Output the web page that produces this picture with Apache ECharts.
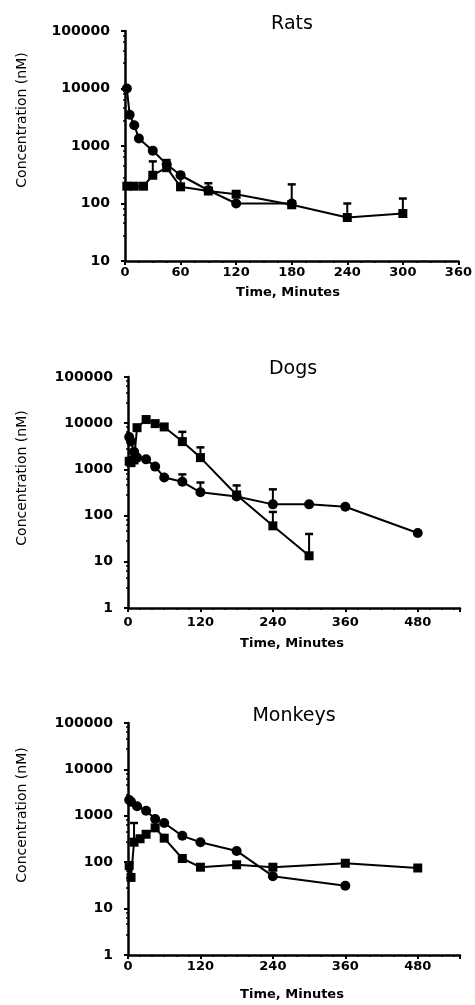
<!DOCTYPE html>
<html>
<head>
<meta charset="utf-8">
<script src="https://cdn.jsdelivr.net/npm/echarts@6/dist/echarts.min.js"></script>
<style>
  html, body { margin: 0; padding: 0; background: #fff; }
  #chart { width: 475px; height: 1005px; }
</style>
</head>
<body>
<div id="chart"></div>
<script>
// Rats
var ratCircTime = [2, 5, 10, 15, 30, 45, 60, 90, 120, 180];
var ratCirc = [10000, 3500, 2300, 1350, 830, 480, 310, 170, 100, 100];
var ratSqTime = [2, 10, 20, 30, 45, 60, 90, 120, 180, 240, 300];
var ratSq = [200, 200, 200, 310, 420, 195, 165, 145, 95, 57, 67];
var ratSqErrTime = [30, 45, 60, 90, 180, 240, 300];
var ratSqErrTop = [540, 570, 340, 225, 215, 100, 122];

// Dogs
var dogCircTime = [2, 5, 10, 15, 30, 45, 60, 90, 120, 180, 240, 300, 360, 480];
var dogCirc = [5000, 4000, 2400, 1800, 1650, 1150, 670, 540, 320, 260, 175, 175, 155, 42];
var dogCircErrTime = [90, 120, 240];
var dogCircErrTop = [780, 520, 370];
var dogSqTime = [2, 5, 10, 15, 30, 45, 60, 90, 120, 180, 240, 300];
var dogSq = [1500, 1400, 1600, 8000, 12000, 9800, 8300, 4000, 1800, 280, 60, 13.5];
var dogSqErrTime = [90, 120, 180, 240, 300];
var dogSqErrTop = [6500, 3000, 450, 120, 40];

// Monkeys
var monCircTime = [2, 5, 15, 30, 45, 60, 90, 120, 180, 240, 360];
var monCirc = [2200, 2000, 1600, 1280, 850, 700, 370, 270, 175, 50, 31];
var monSqTime = [2, 5, 10, 20, 30, 45, 60, 90, 120, 180, 240, 360, 480];
var monSq = [85, 47, 270, 320, 400, 550, 330, 120, 78, 88, 78, 95, 75];
var monSqErrTime = [10];
var monSqErrTop = [700];

var xTicksRats = [0, 60, 120, 180, 240, 300, 360];
var xTicksLong = [0, 120, 240, 360, 480];

var FONT = 'DejaVu Sans';

function pairs(t, v) {
  return t.map(function (x, i) { return [x, v[i]]; });
}
function errData(t, v, et, top) {
  return et.map(function (x, i) { return [x, v[t.indexOf(x)], top[i]]; });
}

// upper error bar with cap
function errBar(params, api) {
  var p0 = api.coord([api.value(0), api.value(1)]);
  var p1 = api.coord([api.value(0), api.value(2)]);
  return {
    type: 'group',
    children: [
      { type: 'line', shape: { x1: p0[0], y1: p0[1], x2: p1[0], y2: p1[1] }, style: { stroke: '#000', lineWidth: 2 } },
      { type: 'line', shape: { x1: p1[0] - 4, y1: p1[1], x2: p1[0] + 4, y2: p1[1] }, style: { stroke: '#000', lineWidth: 2.5 } }
    ]
  };
}

var grids = [
  { left: 125, top: 31, width: 334, height: 230 },
  { left: 128, top: 377, width: 332, height: 231 },
  { left: 128, top: 723, width: 332, height: 232 }
];

function xAxis(idx, max, interval, ticks, minorSplit, margin) {
  return {
    gridIndex: idx, type: 'value', min: 0, max: max, interval: interval,
    axisLine: { show: true, onZero: false, lineStyle: { color: '#000', width: 2.5 } },
    axisTick: { show: true, length: 4, lineStyle: { color: '#000', width: 2 } },
    minorTick: { show: true, splitNumber: minorSplit, length: 2, lineStyle: { color: '#000', width: 1.5 } },
    splitLine: { show: false },
    axisLabel: {
      margin: margin, color: '#000', fontFamily: FONT, fontWeight: 'bold', fontSize: 13,
      showMaxLabel: max === ticks[ticks.length - 1],
      formatter: function (v) { return ticks.indexOf(v) >= 0 ? String(v) : ''; }
    }
  };
}

function yAxis(idx, min) {
  return {
    gridIndex: idx, type: 'log', logBase: 10, min: min, max: 100000,
    axisLine: { show: true, onZero: false, lineStyle: { color: '#000', width: 2.5 } },
    axisTick: { show: true, length: 4, lineStyle: { color: '#000', width: 2 } },
    minorTick: { show: true, splitNumber: 5, length: 2, lineStyle: { color: '#000', width: 1.5 } },
    splitLine: { show: false },
    axisLabel: {
      margin: 15, color: '#000', fontFamily: FONT, fontWeight: 'bold', fontSize: 14,
      formatter: function (v) { return String(Math.round(v)); }
    }
  };
}

function lineSeries(idx, data, symbol) {
  return {
    type: 'line', xAxisIndex: idx, yAxisIndex: idx, data: data,
    symbol: symbol, symbolSize: symbol === 'rect' ? 9 : 10,
    lineStyle: { color: '#000', width: 2 },
    itemStyle: { color: '#000' },
    animation: false, z: 3
  };
}

function errSeries(idx, data) {
  return {
    type: 'custom', xAxisIndex: idx, yAxisIndex: idx, data: data,
    renderItem: errBar, animation: false, z: 2
  };
}

function txt(x, y, s, size, weight, rot) {
  return {
    type: 'text', x: x, y: y, rotation: rot || 0,
    style: { text: s, fill: '#000', font: weight + ' ' + size + 'px "' + FONT + '"', align: 'center', verticalAlign: 'middle' }
  };
}

var chart = echarts.init(document.getElementById('chart'));
var option = {
  backgroundColor: '#fff',
  animation: false,
  grid: grids,
  xAxis: [
    xAxis(0, 360, 60, xTicksRats, 4, 5),
    xAxis(1, 550, 120, xTicksLong, 6, 8),
    xAxis(2, 550, 120, xTicksLong, 6, 5)
  ],
  yAxis: [yAxis(0, 10), yAxis(1, 1), yAxis(2, 1)],
  series: [
    errSeries(0, errData(ratSqTime, ratSq, ratSqErrTime, ratSqErrTop)),
    lineSeries(0, pairs(ratCircTime, ratCirc), 'circle'),
    lineSeries(0, pairs(ratSqTime, ratSq), 'rect'),
    errSeries(1, errData(dogCircTime, dogCirc, dogCircErrTime, dogCircErrTop)),
    errSeries(1, errData(dogSqTime, dogSq, dogSqErrTime, dogSqErrTop)),
    lineSeries(1, pairs(dogCircTime, dogCirc), 'circle'),
    lineSeries(1, pairs(dogSqTime, dogSq), 'rect'),
    errSeries(2, errData(monSqTime, monSq, monSqErrTime, monSqErrTop)),
    lineSeries(2, pairs(monCircTime, monCirc), 'circle'),
    lineSeries(2, pairs(monSqTime, monSq), 'rect')
  ],
  graphic: [
    txt(292, 24, 'Rats', 19, 'normal'),
    txt(293, 369, 'Dogs', 19, 'normal'),
    txt(294, 716, 'Monkeys', 19, 'normal'),
    txt(288, 293, 'Time, Minutes', 13, 'bold'),
    txt(292, 644, 'Time, Minutes', 13, 'bold'),
    txt(292, 995, 'Time, Minutes', 13, 'bold'),
    txt(22, 120, 'Concentration (nM)', 14, 'normal', Math.PI / 2),
    txt(22, 478, 'Concentration (nM)', 14, 'normal', Math.PI / 2),
    txt(22, 815, 'Concentration (nM)', 14, 'normal', Math.PI / 2)
  ]
};
chart.setOption(option);
</script>
</body>
</html>
